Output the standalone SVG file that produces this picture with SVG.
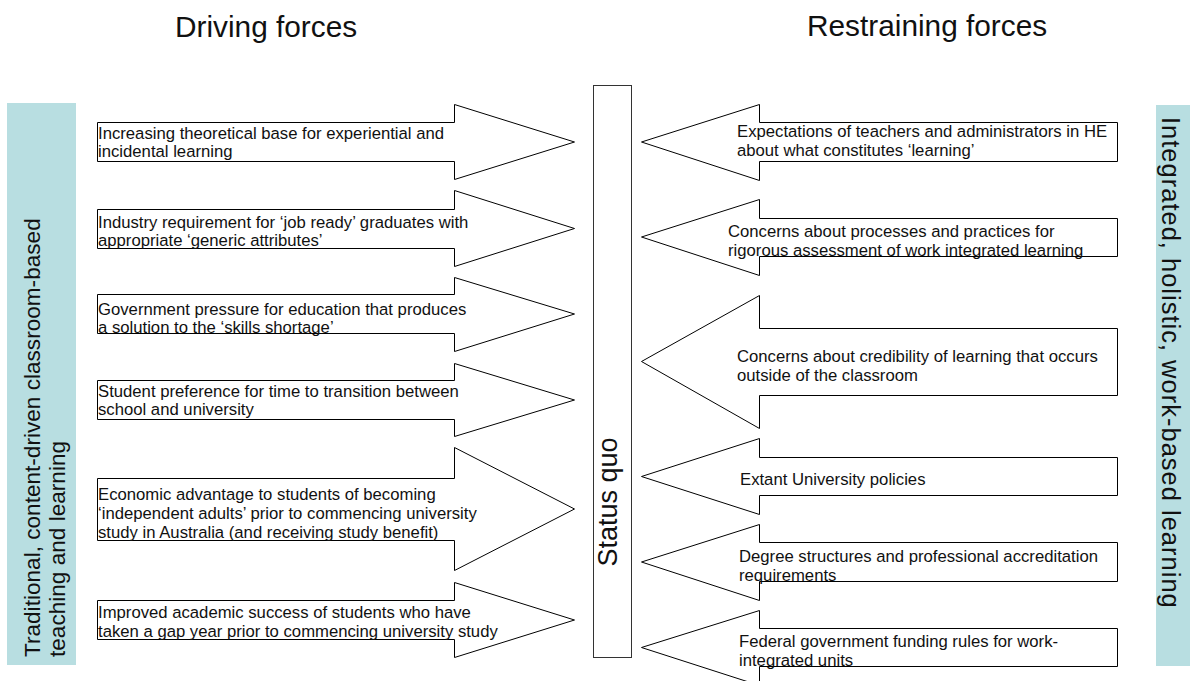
<svg xmlns="http://www.w3.org/2000/svg" width="1190" height="681" viewBox="0 0 1190 681">
<style>
  .arrow { fill: #ffffff; stroke: #000000; stroke-width: 1; }
  .t { font-family: "Liberation Sans", Arial, sans-serif; font-size: 16.7px; fill: #111111; }
  .h { font-family: "Liberation Sans", Arial, sans-serif; font-size: 29.8px; fill: #111111; }
  .side { font-family: "Liberation Sans", Arial, sans-serif; font-size: 22.6px; fill: #111111; }
  .bar { fill: #b8dee1; stroke: none; }
</style>
<rect width="1190" height="681" fill="#ffffff"/>

<g id="headings">
  <text class="h" x="175" y="37">Driving forces</text>
  <text class="h" x="807" y="36">Restraining forces</text>
</g>

<g id="left-bar">
  <rect class="bar" x="7" y="103" width="69" height="562"/>
  <text class="side" transform="translate(40,657) rotate(-90)">Traditional, content-driven classroom-based</text>
  <text class="side" transform="translate(65,657) rotate(-90)">teaching and learning</text>
</g>

<g id="right-bar">
  <rect class="bar" x="1156" y="105" width="34" height="561"/>
  <text class="side" style="font-size:25.5px;letter-spacing:1px" transform="translate(1162,117) rotate(90)">Integrated, holistic, work-based learning</text>
</g>

<g id="status-quo">
  <rect x="593.5" y="85.5" width="38" height="572" fill="#ffffff" stroke="#333333" stroke-width="1"/>
  <text transform="translate(617,502) rotate(-90)" text-anchor="middle" font-family="Liberation Sans, Arial, sans-serif" font-size="27" fill="#111111">Status quo</text>
</g>

<g id="driving-1">
  <path class="arrow" d="M97.5,122.5 H454.5 V104.5 L574.5,142 L454.5,179.5 V161.5 H97.5 Z"/>
  <text class="t" x="98" y="139">Increasing theoretical base for experiential and</text>
  <text class="t" x="98" y="157">incidental learning</text>
</g>
<g id="driving-2">
  <path class="arrow" d="M97.5,209.5 H454.5 V190.5 L574.5,228.5 L454.5,266.5 V248.5 H97.5 Z"/>
  <text class="t" x="98" y="228">Industry requirement for ‘job ready’ graduates with</text>
  <text class="t" x="98" y="246">appropriate ‘generic attributes’</text>
</g>
<g id="driving-3">
  <path class="arrow" d="M97.5,294.5 H454.5 V277.5 L574.5,314 L454.5,351.5 V333.5 H97.5 Z"/>
  <text class="t" x="98" y="315">Government pressure for education that produces</text>
  <text class="t" x="98" y="333">a solution to the ‘skills shortage’</text>
</g>
<g id="driving-4">
  <path class="arrow" d="M97.5,380.5 H454.5 V363.5 L574.5,400 L454.5,436.5 V419.5 H97.5 Z"/>
  <text class="t" x="98" y="397">Student preference for time to transition between</text>
  <text class="t" x="98" y="415">school and university</text>
</g>
<g id="driving-5">
  <path class="arrow" d="M97.5,478.5 H454.5 V447.5 L574.5,509 L454.5,570.5 V540.5 H97.5 Z"/>
  <text class="t" x="98" y="500">Economic advantage to students of becoming</text>
  <text class="t" x="98" y="519">‘independent adults’ prior to commencing university</text>
  <text class="t" x="98" y="538">study in Australia (and receiving study benefit)</text>
</g>
<g id="driving-6">
  <path class="arrow" d="M97.5,600.5 H454.5 V582.5 L574.5,620 L454.5,657.5 V639.5 H97.5 Z"/>
  <text class="t" x="98" y="618">Improved academic success of students who have</text>
  <text class="t" x="98" y="637">taken a gap year prior to commencing university study</text>
</g>

<g id="restraining-1">
  <path class="arrow" d="M1117.5,122.5 H759.5 V104.5 L641.5,142 L759.5,180.5 V161.5 H1117.5 Z"/>
  <text class="t" x="737" y="137">Expectations of teachers and administrators in HE</text>
  <text class="t" x="737" y="156">about what constitutes ‘learning’</text>
</g>
<g id="restraining-2">
  <path class="arrow" d="M1117.5,218.5 H759.5 V199.5 L641.5,237 L759.5,275.5 V256.5 H1117.5 Z"/>
  <text class="t" x="728" y="237">Concerns about processes and practices for</text>
  <text class="t" x="728" y="256">rigorous assessment of work integrated learning</text>
</g>
<g id="restraining-3">
  <path class="arrow" d="M1117.5,328.5 H759.5 V295.5 L641.5,361.5 L759.5,428.5 V395.5 H1117.5 Z"/>
  <text class="t" x="737" y="362">Concerns about credibility of learning that occurs</text>
  <text class="t" x="737" y="381">outside of the classroom</text>
</g>
<g id="restraining-4">
  <path class="arrow" d="M1117.5,457.5 H759.5 V438.5 L641.5,476.5 L759.5,514.5 V495.5 H1117.5 Z"/>
  <text class="t" x="740" y="485">Extant University policies</text>
</g>
<g id="restraining-5">
  <path class="arrow" d="M1117.5,542.5 H759.5 V524.5 L641.5,562 L759.5,600.5 V581.5 H1117.5 Z"/>
  <text class="t" x="739" y="562">Degree structures and professional accreditation</text>
  <text class="t" x="739" y="581">requirements</text>
</g>
<g id="restraining-6">
  <path class="arrow" d="M1117.5,628.5 H759.5 V610.5 L641.5,647.5 L759.5,685.5 V666.5 H1117.5 Z"/>
  <text class="t" x="739" y="647">Federal government funding rules for work-</text>
  <text class="t" x="739" y="666">integrated units</text>
</g>

<g id="connectors"></g>
</svg>
